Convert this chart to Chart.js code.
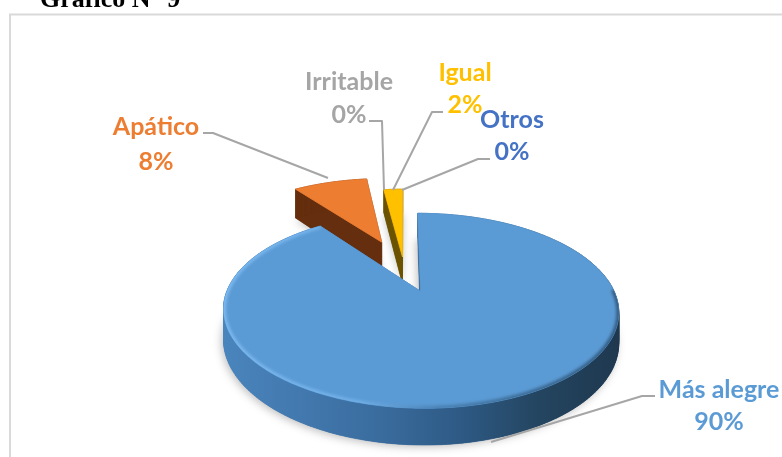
<!DOCTYPE html>
<html><head><meta charset="utf-8">
<style>html,body{margin:0;padding:0;background:#fff}canvas{display:block}</style>
<script src="https://cdn.jsdelivr.net/npm/chart.js@4"></script>
</head><body><canvas id="c" width="782" height="457"></canvas>
<script>
const categories = ['Más alegre','Apático','Irritable','Igual','Otros'];
const values = [90,8,0,2,0];
const sliceColors = ['#5b9bd5','#ed7d31','#a5a5a5','#ffc000','#4472c4'];
const wallColors = ['#2d5578','#652f0f','#555','#6b5200','#2a4a80'];
const explodeOffsets = [53.5,68,0,26,0];
const depthScale = [1,1.25,1,1,1];
const titleText = 'Gráfico N° 9';

// perspective view of the pie plane
const view = {px:404, py:268, sx:184, sy:84.5, k:0.19, depth:28};
function project(u,v,z){
  const w = 1/(1 - view.k*v);
  return [view.px + view.sx*u*w, view.py + view.sy*v*w + z*view.depth*w];
}
// label layout: [centre x, first baseline, second baseline, leader polyline]
const labelLayout = [
  {x:719,y1:398,y2:430,line:[[655,396],[642,396],[491,442]]},
  {x:156,y1:135,y2:170,line:[[203,133],[213,133],[328,178]]},
  {x:349,y1:90,y2:123,line:[[369,121],[382,121],[384,190]]},
  {x:465,y1:81,y2:113,line:[[443,112],[432,112],[393,190]]},
  {x:512,y1:128,y2:160,line:[[490,159],[478,159],[402,190]]}
];

const pie3d = {
  id:'pie3d',
  beforeDatasetsDraw(chart){
    const ctx = chart.ctx, meta = chart.getDatasetMeta(0);
    // frame
    ctx.save();
    ctx.strokeStyle='#d9d9d9'; ctx.lineWidth=2;
    ctx.beginPath(); ctx.moveTo(10,457); ctx.lineTo(10,14.5); ctx.lineTo(782,14.5); ctx.stroke();
    ctx.fillStyle='#000'; ctx.font='bold 26px "Liberation Serif"'; ctx.textAlign='left'; ctx.textBaseline='alphabetic';
    ctx.fillText(titleText,40,7);
    ctx.restore();

    const order = meta.data.map((a,i)=>i).filter(i=>values[i]>0)
      .sort((p,q)=>Math.sin((meta.data[p].startAngle+meta.data[p].endAngle)/2)-Math.sin((meta.data[q].startAngle+meta.data[q].endAngle)/2));
    order.forEach(i=>{
      const arc = meta.data[i], s=arc.startAngle, e=arc.endAngle, mid=(s+e)/2, dz=depthScale[i];
      const ex = arc.options.offset/arc.outerRadius;
      const u0=Math.cos(mid)*ex, v0=Math.sin(mid)*ex;
      const n=Math.max(6,Math.round((e-s)*180/Math.PI));
      const pts=[[u0,v0]];
      for(let j=0;j<=n;j++){const t=s+(e-s)*j/n; pts.push([u0+Math.cos(t),v0+Math.sin(t)]);}
      const path=z=>{ctx.beginPath();pts.forEach((p,j)=>{const q=project(p[0],p[1],z);j?ctx.lineTo(q[0],q[1]):ctx.moveTo(q[0],q[1]);});ctx.closePath();};
      let wall=wallColors[i];
      if(i===0){
        const g=ctx.createLinearGradient(222,0,618,0);
        g.addColorStop(0,'#4a85bd');g.addColorStop(.4,'#3a6c9e');g.addColorStop(.6,'#2e5a85');g.addColorStop(.8,'#244560');g.addColorStop(1,'#1f3850');
        wall=g;
      }
      // soft shadow under the solid
      ctx.save();
      ctx.shadowColor='rgba(0,0,0,.25)';ctx.shadowBlur=9;ctx.shadowOffsetX=i===0?-2:0;ctx.shadowOffsetY=2;
      ctx.fillStyle=wall; path(dz); ctx.fill();
      ctx.restore();
      // walls
      ctx.fillStyle=wall; ctx.strokeStyle=wall; ctx.lineWidth=.6;
      for(let j=0;j<pts.length;j++){
        const p=pts[j],r=pts[(j+1)%pts.length];
        const a=project(p[0],p[1],0),b=project(r[0],r[1],0),c=project(r[0],r[1],dz),d=project(p[0],p[1],dz);
        ctx.beginPath();ctx.moveTo(...a);ctx.lineTo(...b);ctx.lineTo(...c);ctx.lineTo(...d);ctx.closePath();ctx.fill();ctx.stroke();
      }
      // top face
      ctx.fillStyle=sliceColors[i]; ctx.strokeStyle=sliceColors[i]; ctx.lineWidth=.8; path(0); ctx.fill(); ctx.stroke();
      if(i===0){
        ctx.save();
        path(0); ctx.clip();
        const g=ctx.createLinearGradient(222,0,618,0);
        g.addColorStop(0,'#7db9f0');g.addColorStop(.35,'#70aee6');g.addColorStop(.55,'#4a80b2');g.addColorStop(.8,'#3a6890');g.addColorStop(1,'#335c82');
        ctx.strokeStyle=g; ctx.lineWidth=5; ctx.filter='blur(1.5px)';
        ctx.beginPath();
        pts.slice(90).forEach((p,j)=>{const q=project(p[0],p[1],0);j?ctx.lineTo(q[0],q[1]):ctx.moveTo(q[0],q[1]);});
        ctx.stroke();
        ctx.restore();
      }
    });
    return false;
  },
  afterDraw(chart){
    const ctx=chart.ctx;
    ctx.save();
    ctx.strokeStyle='#a6a6a6';ctx.lineWidth=2;ctx.lineJoin='round';
    labelLayout.forEach(l=>{ctx.beginPath();l.line.forEach((p,j)=>j?ctx.lineTo(p[0],p[1]):ctx.moveTo(p[0],p[1]));ctx.stroke();});
    ctx.font='bold 25px Lato';ctx.textAlign='center';ctx.textBaseline='alphabetic';
    categories.forEach((c,i)=>{
      const l=labelLayout[i];
      ctx.fillStyle=sliceColors[i];
      ctx.fillText(c,l.x,l.y1);
      ctx.fillText(values[i]+'%',l.x,l.y2);
    });
    ctx.restore();
  }
};

new Chart(document.getElementById('c'),{
  type:'pie',
  data:{labels:categories,datasets:[{data:values,backgroundColor:sliceColors,borderWidth:0,offset:c=>explodeOffsets[c.dataIndex]}]},
  options:{responsive:false,animation:false,layout:{padding:0},
    plugins:{legend:{display:false},tooltip:{enabled:false},title:{display:false}}},
  plugins:[pie3d]
});
</script></body></html>
